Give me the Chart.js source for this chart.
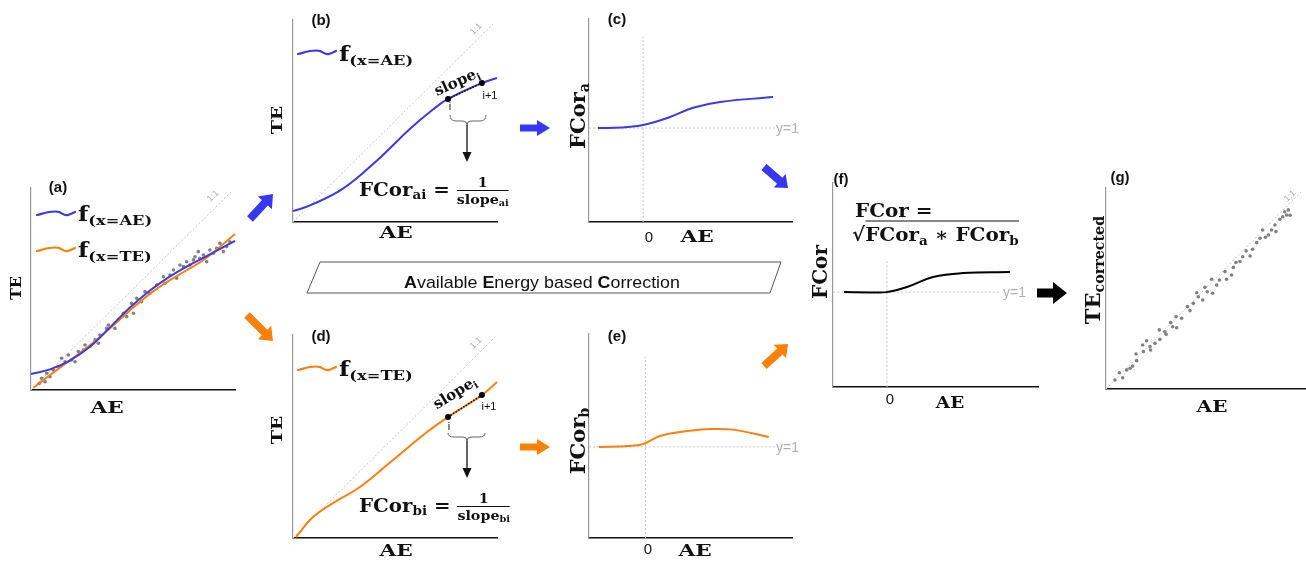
<!DOCTYPE html>
<html>
<head>
<meta charset="utf-8">
<script src="https://cdn.jsdelivr.net/npm/chart.js@4.4.0/dist/chart.umd.min.js"></script>
<style>
html, body { margin: 0; padding: 0; background: #fff; }
#wrap { position: relative; width: 1306px; height: 562px; overflow: hidden; }
canvas { position: absolute; }
svg { position: absolute; left: 0; top: 0; }
.t { position: absolute; white-space: nowrap; line-height: 1; transform: translate(-50%, -50%) var(--tf, scale(1)); }
.l { position: absolute; white-space: nowrap; line-height: 1; transform-origin: left center; transform: translate(0, -50%) var(--tf, scale(1)); }
.sf { font-family: 'DejaVu Serif', serif; font-weight: bold; color: #111; }
.ss { font-family: 'Liberation Sans', Arial, sans-serif; color: #111; }
.pl { font-family: 'Liberation Sans', Arial, sans-serif; font-weight: bold; font-size: 15px; color: #111; }
.sf sub { font-size: 0.68em; vertical-align: baseline; position: relative; top: 0.28em; }
.gray { color: #b0b0b0; }
.frac { display: inline-flex; flex-direction: column; align-items: center; vertical-align: middle; font-size: 13px; }
.frac .num { padding-bottom: 1px; }
.frac .den { border-top: 1.2px solid #111; padding-top: 2px; }
</style>
</head>
<body>
<div id="wrap">
  <canvas id="ca"></canvas>
  <canvas id="cb"></canvas>
  <canvas id="cc"></canvas>
  <canvas id="cd"></canvas>
  <canvas id="ce"></canvas>
  <canvas id="cf"></canvas>
  <canvas id="cg"></canvas>
  <svg id="ov" width="1306" height="562"></svg>

  <!-- panel letters -->
  <div class="t pl" style="left:58px;top:186px">(a)</div>
  <div class="t pl" style="left:321px;top:19px">(b)</div>
  <div class="t pl" style="left:617px;top:18px">(c)</div>
  <div class="t pl" style="left:321px;top:335px">(d)</div>
  <div class="t pl" style="left:617px;top:335px">(e)</div>
  <div class="t pl" style="left:841px;top:178px">(f)</div>
  <div class="t pl" style="left:1120px;top:176px">(g)</div>

  <!-- x axis titles -->
  <div class="t sf" style="left:107px;top:408px;font-size:16px;--tf:scaleX(1.35)">AE</div>
  <div class="t sf" style="left:396px;top:233px;font-size:16px;--tf:scaleX(1.35)">AE</div>
  <div class="t sf" style="left:697px;top:237px;font-size:16px;--tf:scaleX(1.35)">AE</div>
  <div class="t sf" style="left:396px;top:551px;font-size:16px;--tf:scaleX(1.35)">AE</div>
  <div class="t sf" style="left:695px;top:551px;font-size:16px;--tf:scaleX(1.35)">AE</div>
  <div class="t sf" style="left:950px;top:403px;font-size:16px;--tf:scaleX(1.15)">AE</div>
  <div class="t sf" style="left:1212px;top:407px;font-size:16px;--tf:scaleX(1.25)">AE</div>

  <!-- y axis titles -->
  <div class="t sf" style="left:16px;top:288px;font-size:16px;--tf:scaleX(0.9) rotate(-90deg)">TE</div>
  <div class="t sf" style="left:277px;top:120px;font-size:19px;--tf:scaleX(0.8) rotate(-90deg)">TE</div>
  <div class="t sf" style="left:577px;top:116px;font-size:21px;--tf:rotate(-90deg)">FCor<sub>a</sub></div>
  <div class="t sf" style="left:277px;top:430px;font-size:19px;--tf:scaleX(0.8) rotate(-90deg)">TE</div>
  <div class="t sf" style="left:577px;top:441px;font-size:21px;--tf:rotate(-90deg)">FCor<sub>b</sub></div>
  <div class="t sf" style="left:820px;top:272px;font-size:20px;--tf:rotate(-90deg)">FCor</div>
  <div class="t sf" style="left:1092px;top:270px;font-size:21px;--tf:rotate(-90deg)">TE<sub>corrected</sub></div>

  <!-- legends -->
  <div class="l sf" style="left:78px;top:214px;font-size:20px;--tf:scaleX(1.2)">f<sub>(x=AE)</sub></div>
  <div class="l sf" style="left:78px;top:250px;font-size:20px;--tf:scaleX(1.2)">f<sub>(x=TE)</sub></div>
  <div class="l sf" style="left:339px;top:54px;font-size:20px;--tf:scaleX(1.2)">f<sub>(x=AE)</sub></div>
  <div class="l sf" style="left:339px;top:369px;font-size:20px;--tf:scaleX(1.2)">f<sub>(x=TE)</sub></div>

  <!-- 1:1 labels -->
  <div class="t ss gray" style="left:213px;top:196px;font-size:9px;--tf:rotate(-45deg)">1:1</div>
  <div class="t ss gray" style="left:476px;top:29px;font-size:9px;--tf:rotate(-45deg)">1:1</div>
  <div class="t ss gray" style="left:476px;top:343px;font-size:9px;--tf:rotate(-45deg)">1:1</div>
  <div class="t ss gray" style="left:1290px;top:196px;font-size:9px;--tf:rotate(-45deg)">1:1</div>

  <!-- y=1 and 0 labels -->
  <div class="l ss gray" style="left:776px;top:128px;font-size:14px">y=1</div>
  <div class="l ss gray" style="left:776px;top:447px;font-size:14px">y=1</div>
  <div class="l ss gray" style="left:1003px;top:292px;font-size:14px">y=1</div>
  <div class="t ss" style="left:649px;top:236px;font-size:15px">0</div>
  <div class="t ss" style="left:648px;top:548px;font-size:15px">0</div>
  <div class="t ss" style="left:890px;top:398px;font-size:15px">0</div>

  <!-- slope annotations -->
  <div class="t sf" style="left:457px;top:82px;font-size:15px;--tf:rotate(-24deg)">slope<sub>i</sub></div>
  <div class="t ss" style="left:450px;top:106px;font-size:11px">i</div>
  <div class="t ss" style="left:490px;top:95px;font-size:11px">i+1</div>
  <div class="t sf" style="left:455px;top:393px;font-size:15px;--tf:rotate(-32deg)">slope<sub>i</sub></div>
  <div class="t ss" style="left:449px;top:426px;font-size:11px">i</div>
  <div class="t ss" style="left:489px;top:406px;font-size:11px">i+1</div>

  <div class="l sf" style="left:359px;top:191px;font-size:18px;--tf:scaleX(1.1)">FCor<sub>ai</sub> = <span class="frac"><span class="num">1</span><span class="den">slope<sub>ai</sub></span></span></div>
  <div class="l sf" style="left:359px;top:507px;font-size:18px;--tf:scaleX(1.1)">FCor<sub>bi</sub> = <span class="frac"><span class="num">1</span><span class="den">slope<sub>bi</sub></span></span></div>

  <div class="l sf" style="left:855px;top:210px;font-size:19px;--tf:scaleX(1.05)">FCor =</div>
  <div class="l sf" style="left:852px;top:234px;font-size:19px;--tf:scaleX(1.05)">√<span style="border-top:1.5px solid #111;padding-top:1px">FCor<sub>a</sub> ∗ FCor<sub>b</sub></span></div>

  <div class="t ss" style="left:542px;top:282px;font-size:17px;--tf:scaleX(1.05)"><b>A</b>vailable <b>E</b>nergy based <b>C</b>orrection</div>
</div>

<script>
// ---- data (normalised axis units) ----
const oneToOne = [[0, 0], [0.98, 0.98]];

// (a) TE vs AE observations and the two fits
const scatterA = [[0.041,0.033],[0.052,0.058],[0.077,0.083],[0.069,0.041],[0.093,0.066],[0.109,0.099],[0.134,0.116],
  [0.150,0.157],[0.167,0.140],[0.183,0.173],[0.199,0.149],[0.216,0.140],[0.232,0.190],[0.257,0.198],[0.265,0.223],
  [0.289,0.215],[0.314,0.248],[0.330,0.231],[0.338,0.272],[0.371,0.305],[0.379,0.322],[0.412,0.305],[0.428,0.347],
  [0.453,0.380],[0.469,0.363],[0.493,0.429],[0.502,0.380],[0.518,0.454],[0.542,0.437],[0.559,0.487],[0.583,0.479],
  [0.616,0.520],[0.649,0.561],[0.657,0.528],[0.681,0.569],[0.698,0.594],[0.714,0.553],[0.730,0.619],[0.747,0.611],
  [0.763,0.635],[0.779,0.619],[0.796,0.644],[0.804,0.660],[0.820,0.685],[0.828,0.652],[0.845,0.668],[0.861,0.635],
  [0.877,0.693],[0.894,0.677],[0.910,0.701],[0.926,0.726],[0.943,0.685],[0.959,0.710],[0.975,0.734]];
const fitAE_a = [[0,0.079],[0.093,0.102],[0.19,0.146],[0.29,0.215],[0.387,0.310],[0.485,0.408],[0.583,0.493],
  [0.667,0.553],[0.765,0.612],[0.863,0.664],[1.0,0.738]];
const fitTE_a = [[0.01,0.01],[0.093,0.074],[0.19,0.146],[0.29,0.222],[0.387,0.305],[0.485,0.394],[0.583,0.476],
  [0.667,0.535],[0.765,0.594],[0.863,0.656],[1.0,0.772]];

// (b) fit with x = AE, slope points
const fitAE_b = [[0,0.054],[0.083,0.082],[0.245,0.165],[0.412,0.305],[0.574,0.462],[0.686,0.557],[0.760,0.609],
  [0.926,0.688],[1.0,0.713]];
const slopeB = [[0.760,0.609],[0.926,0.688]];

// (d) fit with x = TE, slope points
const fitTE_d = [[0.015,0.005],[0.098,0.103],[0.196,0.172],[0.328,0.251],[0.490,0.384],[0.657,0.522],[0.760,0.596],
  [0.926,0.704],[1.0,0.768]];
const slopeD = [[0.760,0.596],[0.926,0.704]];

// (c) (e) (f) correction factors against AE
const fcorA = [[-0.834,1.0],[-0.4,1.006],[0,1.032],[0.496,1.117],[0.921,1.215],[1.42,1.277],[2.40,1.33]];
const fcorB = [[-0.823,1.0],[-0.3,1.01],[-0.05,1.03],[0.259,1.12],[0.614,1.164],[1.093,1.194],[1.554,1.19],[2.19,1.109]];
const fcor = [[-0.796,1.0],[-0.3,0.997],[0,1.0],[0.372,1.054],[0.854,1.159],[1.41,1.201],[2.28,1.212]];
const vlineC = [[0,0],[0,1.97]], hlineC = [[-1,1],[2.44,1]];
const vlineE = [[0,0],[0,1.99]], hlineE = [[-1,1],[2.30,1]];
const vlineF = [[0,0],[0,1.34]], hlineF = [[-1,1],[2.10,1]];

// (g) corrected TE vs AE
const scatterG = [[0.045,0.045],[0.067,0.081],[0.084,0.056],[0.104,0.095],[0.121,0.103],[0.134,0.114],[0.154,0.141],
  [0.151,0.174],[0.188,0.186],[0.184,0.219],[0.204,0.240],[0.221,0.211],[0.224,0.194],[0.246,0.227],[0.268,0.294],
  [0.271,0.247],[0.296,0.285],[0.302,0.272],[0.325,0.330],[0.335,0.310],[0.352,0.360],[0.355,0.305],[0.380,0.352],
  [0.409,0.410],[0.422,0.390],[0.439,0.426],[0.456,0.479],[0.464,0.459],[0.486,0.443],[0.497,0.506],[0.509,0.484],
  [0.531,0.546],[0.536,0.476],[0.556,0.517],[0.570,0.542],[0.598,0.584],[0.606,0.546],[0.631,0.567],[0.640,0.605],
  [0.653,0.629],[0.673,0.634],[0.687,0.658],[0.704,0.687],[0.724,0.662],[0.737,0.695],[0.757,0.728],[0.774,0.750],
  [0.787,0.791],[0.801,0.755],[0.816,0.766],[0.832,0.791],[0.849,0.816],[0.854,0.783],[0.874,0.844],[0.888,0.857],
  [0.898,0.882],[0.908,0.866],[0.925,0.864],[0.916,0.891]];

const BLUE = '#3a3ae8', ORANGE = '#ff7f0e', DOT = '#808080', REF = '#c4c4c4';
const PAD = 6;

const xy = arr => arr.map(p => ({ x: p[0], y: p[1] }));

function line(data, color, width, dash, order) {
  return { data: xy(data), showLine: true, borderColor: color, borderWidth: width, borderDash: dash || [],
    pointRadius: 0, tension: 0.4, clip: false, order: order };
}
function dots(data, color, r, order) {
  return { data: xy(data), showLine: false, pointRadius: r, pointBackgroundColor: color, pointBorderWidth: 0,
    clip: false, order: order };
}
function slopeSeg(data) {
  return { data: xy(data), showLine: true, borderColor: '#000', borderWidth: 1.5, borderDash: [1.5, 1.5],
    pointRadius: 3, pointBackgroundColor: '#000', pointBorderWidth: 0, clip: false, order: 0 };
}

function panel(id, box, xr, yr, datasets) {
  const c = document.getElementById(id);
  c.width = box[2] + 2 * PAD;
  c.height = box[3] + 2 * PAD;
  c.style.left = (box[0] - PAD) + 'px';
  c.style.top = (box[1] - PAD) + 'px';
  const axis = (r, col, w) => ({
    type: 'linear', min: r[0], max: r[1],
    ticks: { display: false },
    grid: { display: false, drawTicks: false },
    border: { display: true, color: col, width: w }
  });
  return new Chart(c, {
    type: 'scatter',
    data: { datasets: datasets },
    options: {
      responsive: false,
      animation: false,
      devicePixelRatio: 1,
      layout: { padding: PAD },
      plugins: { legend: { display: false }, tooltip: { enabled: false } },
      scales: { x: axis(xr, '#111', 1.5), y: axis(yr, '#999', 1.2) }
    }
  });
}

panel('ca', [31, 188, 204, 202], [0, 1], [0, 1], [
  line(oneToOne, REF, 1, [2, 2], 5),
  dots(scatterA, DOT, 1.8, 4),
  line(fitTE_a, ORANGE, 2, null, 2),
  line(fitAE_a, BLUE, 2, null, 1)
]);
panel('cb', [293, 20, 204, 202], [0, 1], [0, 1], [
  line(oneToOne, REF, 1, [2, 2], 5),
  line(fitAE_b, BLUE, 2, null, 2),
  slopeSeg(slopeB)
]);
panel('cd', [293, 335, 204, 203], [0, 1], [0, 1], [
  line(oneToOne, REF, 1, [2, 2], 5),
  line(fitTE_d, ORANGE, 2, null, 2),
  slopeSeg(slopeD)
]);
panel('cc', [589, 19, 203, 203], [-1, 2.75], [0, 2.16], [
  line(vlineC, REF, 1, [2, 2], 5),
  line(hlineC, REF, 1, [2, 2], 5),
  line(fcorA, BLUE, 2, null, 1)
]);
panel('ce', [589, 334, 203, 204], [-1, 2.6], [0, 2.24], [
  line(vlineE, REF, 1, [2, 2], 5),
  line(hlineE, REF, 1, [2, 2], 5),
  line(fcorB, ORANGE, 2, null, 1)
]);
panel('cf', [833, 183, 205, 204], [-1, 2.8], [0, 2.15], [
  line(vlineF, REF, 1, [2, 2], 5),
  line(hlineF, REF, 1, [2, 2], 5),
  line(fcor, '#000', 2, null, 1)
]);
panel('cg', [1106, 188, 199, 201], [0, 1], [0, 1], [
  line(oneToOne, REF, 1, [2, 2], 5),
  dots(scatterG, DOT, 1.8, 4)
]);

// ---- overlay: arrows, braces, legend swatches, banner ----
const NS = 'http://www.w3.org/2000/svg';
const ov = document.getElementById('ov');
function el(tag, attrs) {
  const e = document.createElementNS(NS, tag);
  for (const k in attrs) e.setAttribute(k, attrs[k]);
  ov.appendChild(e);
  return e;
}
function arrow(x1, y1, x2, y2, color, sw, hw, hl) {
  const dx = x2 - x1, dy = y2 - y1, L = Math.hypot(dx, dy);
  const ux = dx / L, uy = dy / L, nx = -uy, ny = ux;
  const bx = x2 - ux * hl, by = y2 - uy * hl;
  const p = [[x1 + nx * sw / 2, y1 + ny * sw / 2], [bx + nx * sw / 2, by + ny * sw / 2], [bx + nx * hw / 2, by + ny * hw / 2],
    [x2, y2], [bx - nx * hw / 2, by - ny * hw / 2], [bx - nx * sw / 2, by - ny * sw / 2], [x1 - nx * sw / 2, y1 - ny * sw / 2]];
  el('polygon', { points: p.map(q => q[0].toFixed(1) + ',' + q[1].toFixed(1)).join(' '), fill: color });
}
const ABLUE = '#3636f4', AORANGE = '#ff8000';
arrow(250, 219, 273, 194, ABLUE, 8, 19, 12);
arrow(247, 315, 273, 341, AORANGE, 8, 19, 12);
arrow(520, 128, 550, 128, ABLUE, 7, 16, 13);
arrow(520, 447, 550, 447, AORANGE, 7, 16, 13);
arrow(764, 167, 788, 188, ABLUE, 8, 18, 11);
arrow(764, 366, 788, 344, AORANGE, 8, 18, 11);
arrow(1037, 293, 1067, 293, '#000', 9, 22, 14);

// braces + down arrows
function brace(x1, x2, yTop, yMid, xc) {
  el('path', { d: `M${x1},${yTop} Q${x1},${yMid} ${x1 + 6},${yMid} L${xc - 4},${yMid} Q${xc},${yMid} ${xc},${yMid + 4} ` +
    `Q${xc},${yMid} ${xc + 4},${yMid} L${x2 - 6},${yMid} Q${x2},${yMid} ${x2},${yTop}`, fill: 'none', stroke: '#666', 'stroke-width': 1 });
}
brace(450, 486, 115, 121, 467);
el('line', { x1: 467, y1: 125, x2: 467, y2: 154, stroke: '#111', 'stroke-width': 1.3 });
el('polygon', { points: '462.5,152 471.5,152 467,162', fill: '#111' });
brace(448, 485, 433, 437, 467);
el('line', { x1: 467, y1: 441, x2: 467, y2: 470, stroke: '#111', 'stroke-width': 1.3 });
el('polygon', { points: '462.5,468 471.5,468 467,478', fill: '#111' });

// legend swatches
function wave(x, y, color) {
  el('path', { d: `M${x},${y + 2} C${x + 8},${y} ${x + 16},${y - 3} ${x + 22},${y - 1} C${x + 26},${y + 1} ${x + 28},${y + 3} ${x + 31},${y + 2} C${x + 34},${y + 1} ${x + 36},${y} ${x + 38},${y - 1}`,
    fill: 'none', stroke: color, 'stroke-width': 2.2, 'stroke-linecap': 'round' });
}
wave(37, 213, BLUE);
wave(37, 249, ORANGE);
wave(298, 52, BLUE);
wave(298, 368, ORANGE);

// banner
el('polygon', { points: '320,262 781,262 770,293 307,293', fill: 'none', stroke: '#555', 'stroke-width': 1 });
</script>
</body>
</html>
